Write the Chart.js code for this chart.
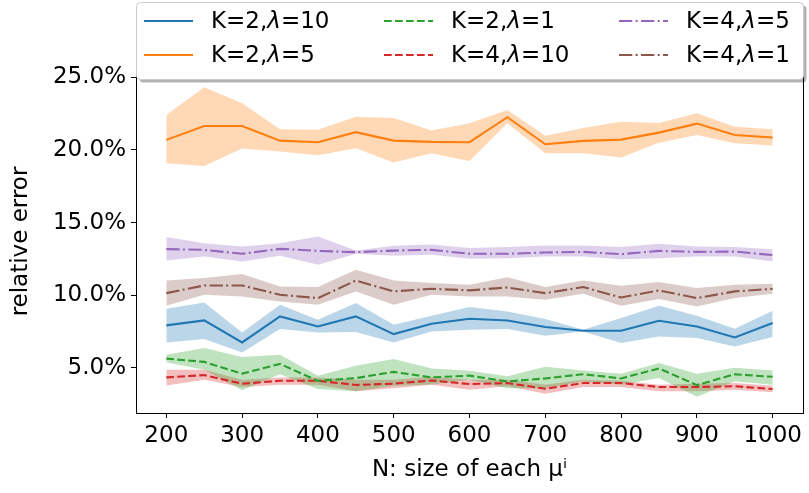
<!DOCTYPE html>
<html>
<head>
<meta charset="utf-8">
<script src="https://cdn.jsdelivr.net/npm/chart.js"></script>
<style>
  body { margin: 0; background: #fff; }
</style>
</head>
<body>
<canvas id="chart-one" width="809" height="493"></canvas>
<script>
// x values and tick labels
var nValues = [200, 250, 300, 350, 400, 450, 500, 550, 600, 650, 700, 750, 800, 850, 900, 950, 1000];
var xTicks = [200, 300, 400, 500, 600, 700, 800, 900, 1000];
var yTicks = [5, 10, 15, 20, 25];

// K=2, lambda=10
var k2l10 = [7.92, 8.26, 6.75, 8.54, 7.85, 8.54, 7.32, 8.03, 8.38, 8.26, 7.81, 7.55, 7.55, 8.24, 7.85, 7.09, 8.08];
var k2l10Hi = [9.06, 9.50, 7.43, 9.34, 8.31, 9.46, 7.96, 8.58, 9.18, 8.88, 8.36, 7.62, 8.43, 9.27, 8.58, 7.69, 8.93];
var k2l10Lo = [6.75, 6.98, 6.06, 7.67, 7.43, 7.46, 6.75, 7.50, 7.62, 7.67, 7.21, 7.50, 6.71, 7.16, 7.05, 6.47, 7.12];

// K=2, lambda=5
var k2l5 = [20.69, 21.65, 21.65, 20.64, 20.53, 21.22, 20.64, 20.55, 20.53, 22.25, 20.39, 20.62, 20.71, 21.19, 21.81, 21.03, 20.85];
var k2l5Hi = [22.41, 24.31, 23.21, 21.42, 21.38, 22.29, 22.20, 21.33, 21.83, 22.75, 20.98, 21.51, 21.93, 21.86, 22.52, 21.60, 21.42];
var k2l5Lo = [19.08, 18.90, 20.09, 19.89, 19.64, 20.11, 19.13, 19.77, 19.24, 21.83, 19.77, 19.77, 19.47, 20.50, 21.03, 20.46, 20.30];

// K=2, lambda=1
var k2l1 = [5.63, 5.41, 4.60, 5.27, 4.10, 4.29, 4.72, 4.34, 4.46, 4.06, 4.27, 4.56, 4.27, 4.96, 3.81, 4.56, 4.38];
var k2l1Hi = [5.90, 6.36, 5.74, 5.90, 4.46, 5.14, 5.60, 4.96, 4.80, 4.42, 5.07, 4.82, 4.60, 5.33, 4.60, 5.00, 4.82];
var k2l1Lo = [5.38, 4.87, 3.45, 4.56, 3.54, 3.38, 3.77, 3.85, 4.18, 3.60, 3.60, 4.07, 3.84, 4.30, 3.00, 4.07, 3.84];

// K=4, lambda=10
var k4l10 = [4.34, 4.50, 3.90, 4.11, 4.11, 3.82, 3.91, 4.13, 3.88, 3.95, 3.56, 3.95, 3.95, 3.68, 3.68, 3.73, 3.54];
var k4l10Hi = [4.87, 4.87, 4.18, 4.34, 4.34, 4.18, 4.18, 4.36, 4.18, 4.18, 3.84, 4.18, 4.11, 3.84, 3.91, 3.95, 3.77];
var k4l10Lo = [3.79, 4.18, 3.68, 3.84, 3.84, 3.38, 3.60, 3.84, 3.49, 3.73, 3.22, 3.68, 3.68, 3.38, 3.38, 3.49, 3.31];

// K=4, lambda=5
var k4l5 = [13.17, 13.12, 12.85, 13.19, 13.05, 12.96, 13.07, 13.12, 12.85, 12.85, 12.94, 12.98, 12.82, 13.05, 12.98, 13.00, 12.76];
var k4l5Hi = [14.00, 13.58, 13.35, 13.58, 14.04, 13.07, 13.40, 13.49, 13.24, 13.31, 13.42, 13.42, 13.31, 13.54, 13.35, 13.31, 13.17];
var k4l5Lo = [12.39, 12.66, 12.32, 12.71, 12.09, 12.85, 12.71, 12.78, 12.50, 12.55, 12.66, 12.66, 12.48, 12.55, 12.66, 12.66, 12.32];

// K=4, lambda=1
var k4l1 = [10.14, 10.67, 10.67, 10.03, 9.80, 11.01, 10.26, 10.44, 10.33, 10.53, 10.14, 10.56, 9.84, 10.33, 9.80, 10.26, 10.44];
var k4l1Hi = [11.01, 11.18, 11.45, 10.60, 10.56, 11.75, 11.01, 10.83, 10.71, 11.24, 10.56, 11.01, 10.65, 10.90, 10.49, 10.71, 10.78];
var k4l1Lo = [9.27, 10.03, 9.91, 9.57, 9.34, 10.26, 9.34, 10.03, 9.91, 9.91, 9.68, 10.10, 9.27, 9.73, 9.22, 9.80, 10.10];

var FONT = "'DejaVu Sans', sans-serif";
var FS = 23;

var dashed = [7.7, 3.3];
var dashDot = [13.3, 3.3, 2.1, 3.3];

var series = [
  {label: "K=2,λ=10", mean: k2l10, hi: k2l10Hi, lo: k2l10Lo, color: "#1f77b4", band: "rgba(31,119,180,0.3)", dash: []},
  {label: "K=2,λ=5", mean: k2l5, hi: k2l5Hi, lo: k2l5Lo, color: "#ff7f0e", band: "rgba(255,127,14,0.3)", dash: []},
  {label: "K=2,λ=1", mean: k2l1, hi: k2l1Hi, lo: k2l1Lo, color: "#2ca02c", band: "rgba(44,160,44,0.3)", dash: dashed},
  {label: "K=4,λ=10", mean: k4l10, hi: k4l10Hi, lo: k4l10Lo, color: "#d62728", band: "rgba(214,39,40,0.3)", dash: dashed},
  {label: "K=4,λ=5", mean: k4l5, hi: k4l5Hi, lo: k4l5Lo, color: "#9467bd", band: "rgba(148,103,189,0.3)", dash: dashDot},
  {label: "K=4,λ=1", mean: k4l1, hi: k4l1Hi, lo: k4l1Lo, color: "#8c564b", band: "rgba(140,86,75,0.3)", dash: dashDot}
];

function toXY(vals) {
  return nValues.map(function (n, i) { return {x: n, y: vals[i]}; });
}

var datasets = [];
// the lines
series.forEach(function (s) {
  datasets.push({
    label: s.label, data: toXY(s.mean), borderColor: s.color, borderWidth: 2.1,
    borderDash: s.dash, pointRadius: 0, fill: false, tension: 0, order: 0, isMain: true
  });
});
// the shaded bands (lower edge, then upper edge filled down to it)
series.forEach(function (s) {
  var lowIdx = datasets.length;
  datasets.push({data: toXY(s.lo), borderWidth: 0, pointRadius: 0, fill: false, order: 1});
  datasets.push({data: toXY(s.hi), borderWidth: 0, pointRadius: 0, fill: lowIdx, backgroundColor: s.band, order: 1});
});

// top and right spines
var frame = {
  id: "frame",
  afterDatasetsDraw: function (chart) {
    var a = chart.chartArea, ctx = chart.ctx;
    ctx.save();
    ctx.strokeStyle = "#000";
    ctx.lineWidth = 1;
    ctx.beginPath();
    ctx.moveTo(a.left, a.top + 0.5);
    ctx.lineTo(a.right + 0.5, a.top + 0.5);
    ctx.lineTo(a.right + 0.5, a.bottom);
    ctx.stroke();
    ctx.restore();
  }
};

function roundRect(ctx, x, y, w, h, r) {
  ctx.beginPath();
  ctx.moveTo(x + r, y);
  ctx.arcTo(x + w, y, x + w, y + h, r);
  ctx.arcTo(x + w, y + h, x, y + h, r);
  ctx.arcTo(x, y + h, x, y, r);
  ctx.arcTo(x, y, x + w, y, r);
  ctx.closePath();
}

// label text with the greek letter in italic, like mathtext
function drawLabel(ctx, text, x, y) {
  var parts = text.split("λ");
  ctx.font = FS + "px " + FONT;
  ctx.fillText(parts[0], x, y);
  x += ctx.measureText(parts[0]).width;
  if (parts.length > 1) {
    ctx.font = "italic " + FS + "px " + FONT;
    ctx.fillText("λ", x, y);
    x += ctx.measureText("λ").width;
    ctx.font = FS + "px " + FONT;
    ctx.fillText(parts[1], x, y);
  }
}

// matplotlib style legend with 3 columns, drawn over the top of the plot
var legendBox = {
  id: "legendBox",
  afterDraw: function (chart) {
    var ctx = chart.ctx;
    var bx = 136.5, by = 2.5, bw = 667, bh = 77;
    ctx.save();
    ctx.fillStyle = "rgba(0,0,0,0.3)";
    roundRect(ctx, bx + 3, by + 3, bw, bh, 4);
    ctx.fill();
    ctx.fillStyle = "#fff";
    roundRect(ctx, bx, by, bw, bh, 4);
    ctx.fill();
    ctx.strokeStyle = "#cccccc";
    ctx.lineWidth = 1;
    ctx.stroke();

    var colX = [144, 384, 619];
    var rowY = [21, 55];
    var mains = chart.data.datasets.filter(function (d) { return d.isMain; });
    ctx.textBaseline = "middle";
    mains.forEach(function (d, i) {
      var x = colX[Math.floor(i / 2)], y = rowY[i % 2];
      ctx.strokeStyle = d.borderColor;
      ctx.lineWidth = d.borderWidth;
      ctx.setLineDash(d.borderDash);
      ctx.beginPath();
      ctx.moveTo(x, y);
      ctx.lineTo(x + 49, y);
      ctx.stroke();
      ctx.setLineDash([]);
      ctx.fillStyle = "#000";
      drawLabel(ctx, d.label, x + 67, y + 1);
    });
    ctx.restore();
  }
};

new Chart("chart-one", {
  type: "line",
  data: {datasets: datasets},
  plugins: [frame, legendBox],
  options: {
    responsive: false,
    animation: false,
    layout: {padding: {top: 70, right: 6, left: 0, bottom: 0}},
    plugins: {
      legend: {display: false},
      tooltip: {enabled: false}
    },
    scales: {
      x: {
        type: "linear",
        min: 160,
        max: 1040,
        afterBuildTicks: function (axis) { axis.ticks = xTicks.map(function (v) { return {value: v}; }); },
        afterFit: function (axis) { axis.height = 80; },
        grid: {drawOnChartArea: false, drawTicks: true, tickLength: 5, color: "#000"},
        border: {display: true, color: "#000", width: 1},
        ticks: {
          color: "#000", font: {family: FONT, size: FS}, padding: 4, maxRotation: 0,
          callback: function (v) { return String(v); }
        },
        title: {display: true, text: "N: size of each μⁱ", color: "#000", font: {family: FONT, size: FS}, padding: {top: 0, bottom: 9}}
      },
      y: {
        min: 1.89,
        max: 25.5,
        afterBuildTicks: function (axis) { axis.ticks = yTicks.map(function (v) { return {value: v}; }); },
        afterFit: function (axis) { axis.width = 136; },
        grid: {drawOnChartArea: false, drawTicks: true, tickLength: 5, color: "#000"},
        border: {display: true, color: "#000", width: 1},
        ticks: {
          color: "#000", font: {family: FONT, size: FS}, padding: 5,
          callback: function (v) { return v.toFixed(1) + "%"; }
        },
        title: {display: true, text: "relative error", color: "#000", font: {family: FONT, size: FS}, padding: {top: 7, bottom: 0}}
      }
    }
  }
});
</script>
</body>
</html>
